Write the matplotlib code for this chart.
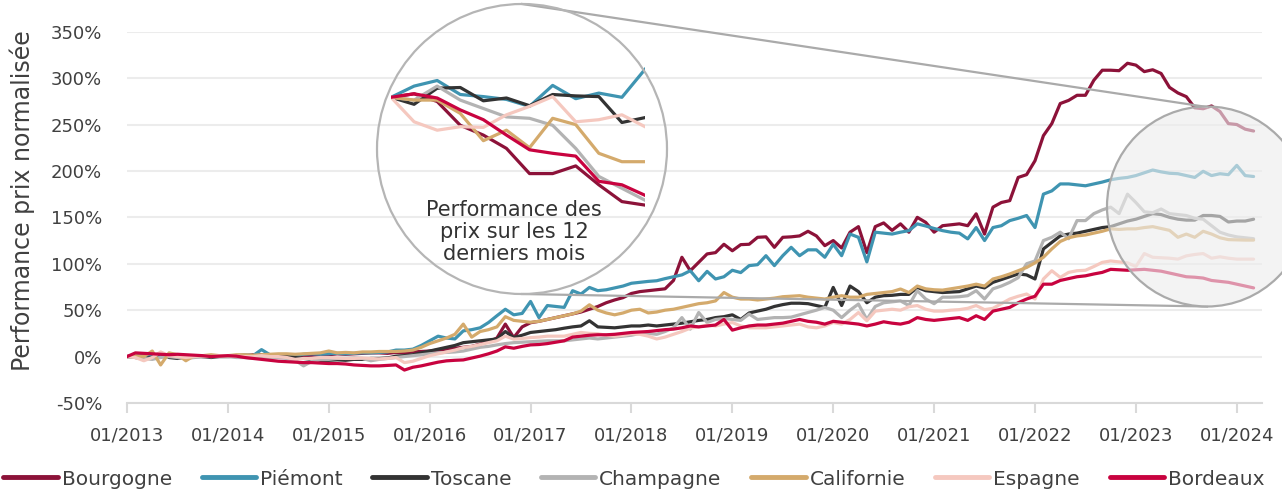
import numpy as np
import matplotlib
matplotlib.use('Agg')
from matplotlib import pyplot as plt
from matplotlib.patches import Circle
from matplotlib.lines import Line2D

W, H, DPI = 1282, 494, 100

# monthly normalised price performance (%), 01/2013 -> 03/2024
bourgogne = [0, 2, 2.5, 1, 0, 1, 1.5, 0.5, 1, 0, 0.5, 1,
             1, 0.5, 1, 2, 2, 1.5, 1, 1.5, 2, 1, 1.5, 2,
             2, 3, 2.5, 3, 3.5, 4, 4, 3.5, 4.5, 4, 5, 5.5,
             6, 7, 8, 9, 10, 11, 13.5, 16, 20, 35, 20.5, 32,
             36.5, 38, 40, 42, 44, 46, 48, 51, 54, 58, 61, 63.5,
             68, 70, 71, 72, 73, 82, 107, 92.5, 101.5, 110.6, 112, 121,
             114, 120.6, 121, 128.5, 129, 117.7, 128.5, 129, 130, 135, 130, 119.5,
             125, 117, 134, 140, 112, 140, 144, 136, 143, 134, 150, 144.6,
             134, 141, 142, 143, 141, 153.8, 132, 161, 166, 168, 193, 196,
             211, 238, 251, 272.6, 276, 281.5, 281.5, 297.7, 308.5, 308.5, 308, 316,
             314, 307, 309, 305, 290, 284, 280, 268, 267, 270, 264, 251,
             250, 245, 243]
piemont = [0, 2, 1, 0, 1, 0.5, 1, 0, 0.5, 1, 0, 0.5,
           0.5, 1, 2, 1, 7.5, 2, 1.5, 2, 1, 2.5, 3, 2.5,
           3, 3.5, 3, 3.5, 4, 4, 4.5, 5, 7, 7, 8, 12,
           17, 22, 20, 19, 27.7, 29, 31, 36.7, 44, 51, 45, 46.5,
           59.4, 42, 55, 54, 53, 71, 67.4, 74.5, 71, 72, 74, 76,
           79, 80, 81, 81.7, 84, 86, 88, 92.5, 81.7, 91.8, 83.6, 86,
           93, 90.5, 98, 99, 108.7, 98, 108.7, 117.7, 108.7, 115, 115, 107,
           121, 108.7, 132, 128.5, 102, 134, 133, 132, 134, 135.7, 143, 140.7,
           138, 135.7, 134, 133, 126.8, 139, 125, 139, 141, 146.5, 149, 152,
           139, 175, 178.5, 186, 186, 185, 184, 186, 188, 190.5, 192, 193,
           195, 198, 201, 199, 197.5, 197, 195, 193, 199.6, 195, 197, 196,
           206, 195, 194]
toscane = [0, -1, -2, -1, 4, -1, -2, -0.5, 0, 0, -1, 0,
           0, 0.5, 0, -1, -1, -0.5, 0, 0, -1, -2, -3, -4,
           -4, -3.5, -4, -3, -3, -2, -2, -1.5, 0.5, 1, 2, 4,
           6, 8, 10, 12, 15, 16, 17, 18, 19, 27, 20.5, 23,
           26, 27, 28, 29, 30.6, 32, 33, 38.6, 32, 31.5, 31, 32,
           33, 33, 34, 33, 34, 35, 36, 37.5, 39, 40, 42, 43,
           45, 40, 47, 49, 51, 54, 56, 57.5, 57.5, 57, 55, 53,
           74.5, 55, 76, 70, 58, 64, 65.6, 66, 67, 67, 74.5, 71,
           70, 69, 69.5, 70, 73, 76, 74, 80, 83, 86, 89, 88,
           83.6, 116, 123, 130, 132, 133, 135, 137, 139, 140, 143, 146,
           148, 151, 154, 153, 150, 148, 147, 147, 152, 152, 151, 145,
           146, 146, 148]
champagne = [0, -1, -2, -3, -1, 0, -1, -2, -1, 0, 0, 0,
             0, -1, -1, -2, -2, -1.5, -1, -2, -4, -10, -5, -3,
             -3, -2, -2, -1.5, -2, -4.5, -3, -2, -1, 0, 1, 2,
             3, 4, 4.5, 5, 6, 8, 10, 11, 12.6, 14, 15, 15.5,
             16, 16.5, 17, 17, 17, 18, 19, 20, 19, 20, 21, 22,
             23, 25, 25, 24, 27, 31, 42, 29.6, 47.5, 36.7, 40, 41,
             40, 39, 45.8, 40, 41, 42, 42, 42.5, 45, 47.5, 50, 53,
             50, 42, 50, 56.6, 40, 54, 58, 59, 60, 55, 71, 62,
             57, 64, 64, 64.5, 65.6, 71, 62, 73, 76, 80, 85, 100,
             103, 125, 128.5, 134, 127, 146.5, 146.5, 154, 158, 161, 154, 175,
             166, 156, 155, 159, 154, 153, 152, 149, 148, 141, 134, 131,
             129, 128, 127]
californie = [0, 1, 0, 6, -9, 4, 2, -4.5, 1, 1, 2, 1,
              1, 2, 2, 1.5, 2, 2.5, 3, 3, 2.5, 3, 3.5, 4,
              6, 4, 4.5, 4, 5, 5, 5.5, 5.5, 5.5, 6, 7, 10,
              14, 17, 20, 24, 35, 21, 27, 29, 32, 43, 39, 38,
              37, 38, 40, 42, 44, 46, 49, 55.8, 50, 47, 45, 47,
              50, 51, 47, 48, 50, 51, 53, 55, 57, 58, 60, 69,
              64, 62, 62, 61, 62, 63, 64.5, 65, 65.6, 64, 63, 62,
              64, 65.6, 64, 64, 67, 68, 69, 70, 72.8, 69, 76, 73,
              72, 71.6, 73, 74.5, 76, 78, 76, 83.6, 86, 89, 92.5, 96,
              101, 107, 116, 124, 128, 130, 131, 133, 135, 137.6, 137, 137.6,
              137.6, 139, 140, 138, 136, 128.5, 132, 128.5, 135, 132, 128, 126,
              125.7, 125.5, 125.5]
espagne = [0, -1, -4.5, -1, 5, 1, 0, -1, 0, 1, 0, 1,
           1, 0.5, 0, 0, 1, 0, 0, -1, -3, -2, -2, -1,
           -1, -1.5, -2, -2, -1.5, -2, -2.5, -2, -1, -6.5, -5, -2,
           1, 3, 5, 7, 9.7, 11, 13, 15, 17, 22, 18.8, 19.5,
           20.5, 21, 22, 22, 22, 24, 26, 25, 24.6, 23, 22, 23,
           24.6, 24, 22, 19, 21, 24, 27, 30.6, 32, 34, 33, 35,
           36.7, 33, 31, 31, 31, 32, 33, 34, 35, 32, 31, 33,
           36.7, 35, 40, 47.5, 38.6, 49, 50, 51, 50, 53.7, 55, 51,
           49, 49, 50, 50.6, 52, 55, 50.6, 52, 57, 62, 65, 67.4,
           62, 83.6, 92.5, 85.3, 90.7, 92.5, 93, 97, 101.5, 103, 102, 101,
           97, 111, 107, 106.5, 106, 105, 108.5, 110, 111, 106, 107.5, 106,
           105, 105, 105]
bordeaux = [0, 4, 3.5, 3, 2.5, 2, 2.5, 2, 1.5, 1, 0, 0.5,
            1, 0.5, -1, -2, -3, -4, -5, -5.5, -6, -6.5, -6.5, -7,
            -7.5, -7.5, -8, -9, -9.5, -10, -10, -9.5, -9, -14.5, -11.5, -10,
            -8, -6, -4.6, -4, -3.6, -1.5, 0.5, 3, 6, 10.5, 9, 11,
            12.6, 13, 14, 15.5, 17, 21, 22, 23, 23.5, 23.5, 24, 25,
            26, 26.5, 27, 28, 29, 29.6, 31, 33, 32, 33, 34, 40,
            28.5, 31, 33, 34, 34, 35, 36, 38, 40, 38, 37, 35,
            38, 37, 36, 35, 33, 35, 37.5, 36, 35, 37, 42, 40,
            39, 40, 41, 42, 39, 44, 40, 49, 51, 53, 58, 62,
            65, 78, 78, 82, 84, 86, 87, 89, 90.7, 94, 93.5, 93,
            93.5, 94, 93, 92, 90, 88, 86, 85.5, 84.6, 82, 81, 80,
            78, 76, 74]

# performance over the last 12 months (%), shown in the round inset
inset_bourgogne = [0, 0.5, -0.6, -4.0, -5.4, -7.3, -10.9, -10.9, -9.8, -12.5, -14.9, -15.4]
inset_piemont = [0, 1.6, 2.4, 0.4, 0.1, -0.3, -1.3, 1.7, -0.2, 0.6, 0, 4.0]
inset_toscane = [0, -1.0, 1.3, 1.4, -0.5, -0.1, -1.2, 0.4, 0.2, 0.1, -3.6, -2.9]
inset_champagne = [0, -0.4, 1.6, -0.4, -1.6, -2.8, -3.0, -4.0, -7.3, -11.3, -13.0, -14.7]
inset_californie = [0, -0.4, -0.4, -2.3, -6.2, -4.7, -7.2, -3.0, -3.9, -8.0, -9.2, -9.2]
inset_espagne = [0, -3.5, -4.7, -4.2, -4.3, -2.5, -1.3, 0.1, -3.5, -3.2, -2.5, -4.2]
inset_bordeaux = [0, 0.5, -0.1, -1.8, -3.2, -5.4, -7.5, -8.0, -8.4, -12.0, -12.5, -14.0]

names = ['Bourgogne', 'Piémont', 'Toscane', 'Champagne', 'Californie', 'Espagne', 'Bordeaux']
colors = ['#8c1239', '#3f94b1', '#333333', '#b3b3b3', '#d4aa6c', '#f5c8bf', '#c8033f']
main_data = [bourgogne, piemont, toscane, champagne, californie, espagne, bordeaux]
inset_data = [inset_bourgogne, inset_piemont, inset_toscane, inset_champagne,
              inset_californie, inset_espagne, inset_bordeaux]

year_labels = ['01/%d' % y for y in range(2013, 2025)]
y_ticks = list(range(-50, 351, 50))
y_labels = ['%d%%' % v for v in y_ticks]

text_col = '#404040'


def fx(px):
    return px / W


def fy(py):
    return 1 - py / H


fig = plt.figure(figsize=(W / DPI, H / DPI), dpi=DPI)

# main chart
ax = fig.add_axes([fx(127), fy(403), (1262 - 127) / W, (403 - 31.7) / H])
months = np.arange(len(bourgogne))
for vals, c in zip(main_data, colors):
    ax.plot(months, vals, color=c, lw=2.3, solid_joinstyle='round', solid_capstyle='round')

ax.set_xlim(0, 135)
ax.set_ylim(-50, 350)
ax.set_xticks(np.arange(0, 12 * len(year_labels), 12))
ax.set_xticklabels(year_labels)
ax.set_yticks(y_ticks)
ax.set_yticklabels(y_labels)
ax.set_axisbelow(True)
ax.yaxis.grid(True, color='#ececec', lw=1.5)
for s in ['left', 'right', 'top']:
    ax.spines[s].set_visible(False)
ax.spines['bottom'].set_color('#d9d9d9')
ax.spines['bottom'].set_linewidth(1.5)
ax.tick_params(axis='y', length=0, pad=18, labelsize=13, labelcolor=text_col)
ax.tick_params(axis='x', length=7, width=1.5, color='#d9d9d9', pad=10,
               labelsize=13, labelcolor=text_col)

fig.text(fx(22), fy(201), 'Performance prix normalisée', rotation=90,
         ha='center', va='center', fontsize=17, color=text_col)

# magnifier over the last 12 months
mag = Circle((1207 / DPI, (H - 206.5) / DPI), 100 / DPI, transform=fig.dpi_scale_trans,
             fc=(0.93, 0.93, 0.93, 0.62), ec='#aaaaaa', lw=1.6, zorder=5)
fig.add_artist(mag)

# connector lines
fig.add_artist(Line2D([fx(522), fx(1207)], [fy(4), fy(107)], transform=fig.transFigure,
                      color='#aaaaaa', lw=1.6, zorder=4))
fig.add_artist(Line2D([fx(522), fx(1207)], [fy(294), fy(306.5)], transform=fig.transFigure,
                      color='#aaaaaa', lw=1.6, zorder=4))

# round inset
lens = Circle((522 / DPI, (H - 149) / DPI), 145 / DPI, transform=fig.dpi_scale_trans,
              fill=False, ec='#b5b5b5', lw=1.6, zorder=5)
fig.add_artist(lens)

ax_in = fig.add_axes([fx(391), fy(223.3), 254 / W, 168 / H])
for vals, c in zip(inset_data, colors):
    ax_in.plot(np.arange(len(vals)), vals, color=c, lw=2.3, solid_joinstyle='round')
ax_in.set_xlim(0, 11)
ax_in.set_ylim(-18, 6)
ax_in.axis('off')
ax_in.patch.set_alpha(0)

fig.text(fx(514), fy(232), 'Performance des\nprix sur les 12\nderniers mois',
         ha='center', va='center', fontsize=15, linespacing=1.15, color='#333333')

# legend
handles = [Line2D([], [], color=c, lw=3.5, solid_capstyle='round') for c in colors]
fig.legend(handles, names, loc='center', bbox_to_anchor=(fx(634), fy(479)), ncol=7,
           frameon=False, fontsize=14.5, handlelength=2.7, handletextpad=0.2,
           columnspacing=1.47, borderpad=0, labelcolor=text_col)

fig.savefig('out.png', dpi=DPI)
